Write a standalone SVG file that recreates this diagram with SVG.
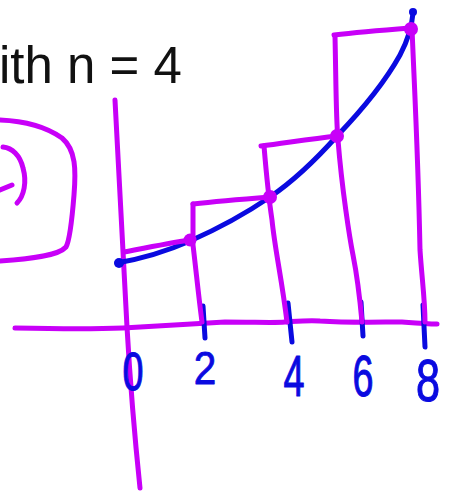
<svg xmlns="http://www.w3.org/2000/svg" width="450" height="493" viewBox="0 0 450 493">
<style>
.p{fill:none;stroke:#c800f8;stroke-width:5;stroke-linecap:round;stroke-linejoin:round}
.b{fill:none;stroke:#0a0ae0;stroke-width:5;stroke-linecap:round;stroke-linejoin:round}
.dot{fill:#c800f8}
.num{font-family:"Liberation Sans",Arial,sans-serif;font-size:54px;fill:#0a0ae0;stroke:#0a0ae0;stroke-width:1;stroke-linejoin:round;text-anchor:middle}
.title{font-family:"Liberation Sans",Arial,sans-serif;font-size:51px;fill:#111}
</style>
<rect width="450" height="493" fill="#fff"/>
<text class="title" x="-1" y="83">ith n = 4</text>
<g id="spiral">
<path class="p" d="M0,120 C25,121 45,126 62,138 C76,150 76,170 74,195 C72,220 70,240 66,247 C58,256 30,259 0,261"/>
<path class="p" d="M3,147 C12,148 20,155 23,168 C27,182 24,196 17,203"/>
<path class="p" d="M0,190 L12,185"/>
</g>
<g id="axes">
<path class="p" d="M115,100 C119,180 124,260 127,327 C130,380 135,440 140,488"/>
<path class="p" d="M15,328 C60,329 100,329 123,328 C160,326 190,324 225,322 C255,322 275,323 285,322 C300,321 310,320 320,321 C350,323 380,322 402,322 C415,323 427,324 437,324"/>
<path class="b" d="M203,306 L205,338"/>
<path class="b" d="M288,303 L292,342"/>
<path class="b" d="M361,302 L363,336"/>
<path class="b" d="M423,305 L425,347"/>
</g>
<g id="curve">
<path class="b" d="M117,263 C140,259 165,252 190,241 C215,230 245,214 270,197 C295,180 320,155 337,136 C360,112 385,82 400,55 C408,40 412,25 413,13"/>
<circle cx="119" cy="263" r="5" fill="#0a0ae0"/>
<circle cx="413" cy="12" r="4" fill="#0a0ae0"/>
</g>
<g id="rectangles">
<path class="p" d="M124,252 C150,247 170,243 190,240"/>
<path class="p" d="M193,204 L193,245 C196,270 199,300 202,322"/>
<path class="p" d="M193,204 C220,201 245,199 270,197"/>
<path class="p" d="M261,146 C285,143 310,139 337,136"/>
<path class="p" d="M264,146 C266,170 269,200 272,220 C275,250 282,280 287,322"/>
<path class="p" d="M334,35 C360,32 385,30 410,28"/>
<path class="p" d="M335,36 C336,80 336,120 338,140 C342,190 350,240 353,255 C358,280 360,300 362,322"/>
<path class="p" d="M412,28 C414,80 418,150 420,250 C422,280 425,300 425,322"/>
<circle class="dot" cx="190" cy="240" r="6.5"/>
<circle class="dot" cx="270" cy="197" r="7"/>
<circle class="dot" cx="337" cy="136" r="7"/>
<circle class="dot" cx="411" cy="29" r="7"/>
</g>
<g id="labels">
<text class="num" transform="translate(133,390) scale(0.7,1)">0</text>
<text class="num" transform="translate(205,384) scale(0.75,0.85)">2</text>
<text class="num" transform="translate(294,396) scale(0.7,1.05)">4</text>
<text class="num" transform="translate(363,396) scale(0.7,1.05)">6</text>
<text class="num" transform="translate(428,401) scale(0.8,1.1)">8</text>
</g>
</svg>
